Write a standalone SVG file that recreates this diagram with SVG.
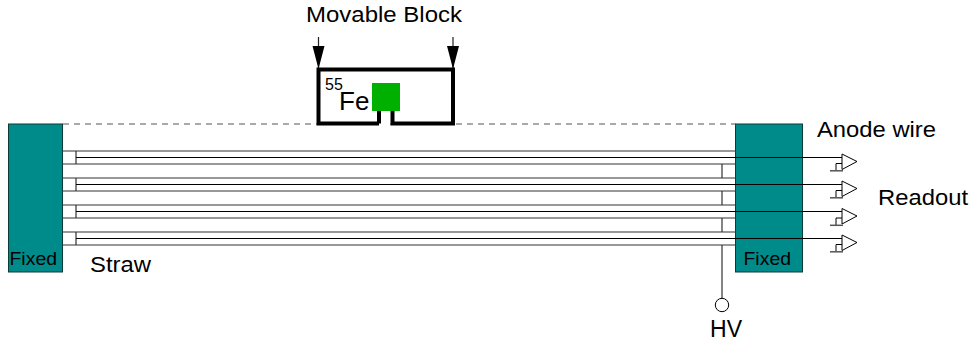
<svg xmlns="http://www.w3.org/2000/svg" width="972" height="347" viewBox="0 0 972 347">
<defs>
<style>
text{font-family:"Liberation Sans",Arial,sans-serif;fill:#000}
.fix{fill:#008b8b;stroke:#0a3a3a;stroke-width:1}
.l{fill:none;stroke:#000;stroke-width:1}
.g{fill:none;stroke:#333;stroke-width:1.2}
.b{fill:none;stroke:#000;stroke-width:4}
</style>
<g id="amp"><path class="l" d="M842 154L857 161.500L842 169.500Z"/><path class="l" d="M842 163.500H836V170.500"/><path d="M830 170.800H843" fill="none" stroke="#555" stroke-width="1.500"/></g>
</defs>
<rect width="972" height="347" fill="#fff"/>
<g id="fixed-left"><rect class="fix" x="8.500" y="124" width="54" height="148"/><text x="9.500" y="265" font-size="19" textLength="47.500" lengthAdjust="spacingAndGlyphs">Fixed</text></g>
<g id="fixed-right"><rect class="fix" x="735.500" y="124" width="67" height="148"/><text x="743.500" y="265" font-size="19" textLength="47.500" lengthAdjust="spacingAndGlyphs">Fixed</text></g>
<g id="connectors">
<path d="M63 124H318M390 124H736" fill="none" stroke="#555" stroke-dasharray="6 5" stroke-width="1"/>
<path class="g" d="M63 151H736M63 164H736M63 178H736M63 191H736M63 205H736M63 218H736M63 232H736M63 245H736"/>
<path class="g" d="M76 151V164M76 178V191M76 205V218M76 232V245"/>
<path class="l" d="M76 157.500H842M76 184.500H842M76 211.500H842M76 238.500H842"/>
<path class="g" d="M722 164V178M722 191V205M722 218V232M722 245V298"/>
<path d="M318.500 37V68M453 37V68" stroke="#222" stroke-width="1.200" fill="none"/>
<path d="M312.500 46L324.500 46L318.500 69ZM447 46L459 46L453 69Z" fill="#000"/>
</g>
<g id="movable-block">
<path class="b" d="M379 123.500V110M379 123.500H318.500V69.500H453V123.500H392.500V110"/>
<rect x="372" y="83" width="28" height="28" fill="#00b000"/>
<text x="325" y="90" font-size="16">55</text>
<text x="339" y="110" font-size="26">Fe</text>
</g>
<g id="amps">
<use href="#amp"/>
<use href="#amp" y="27"/>
<use href="#amp" y="54.500"/>
<use href="#amp" y="81"/>
</g>
<g id="hv"><circle cx="722" cy="305" r="6.700" fill="#fff" stroke="#000" stroke-width="1"/><text x="710" y="337" font-size="23" textLength="32" lengthAdjust="spacingAndGlyphs">HV</text></g>
<g id="labels">
<text x="306" y="22" font-size="22" textLength="156" lengthAdjust="spacingAndGlyphs">Movable Block</text>
<text x="817" y="137" font-size="22" textLength="119" lengthAdjust="spacingAndGlyphs">Anode wire</text>
<text x="878" y="205" font-size="22" textLength="90" lengthAdjust="spacingAndGlyphs">Readout</text>
<text x="90" y="271.500" font-size="22.500" textLength="61" lengthAdjust="spacingAndGlyphs">Straw</text>
</g>
</svg>
